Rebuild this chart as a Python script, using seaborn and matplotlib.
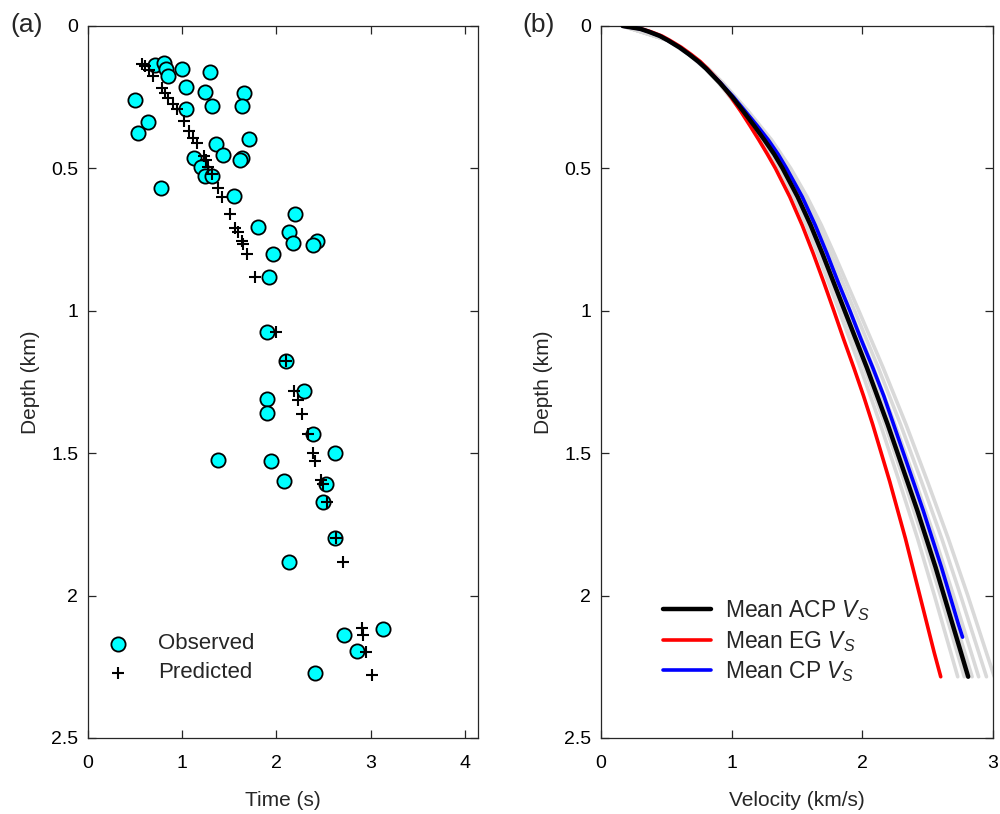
import numpy as np
import pandas as pd
import matplotlib
matplotlib.use("Agg")
import matplotlib.pyplot as plt
from matplotlib.ticker import FuncFormatter
import seaborn as sns

# ---------------- data: panel (a) ----------------
obs_time = [0.71, 0.81, 0.83, 0.85, 1.00, 1.30, 0.50, 0.64, 0.53, 1.04,
            1.24, 1.32, 1.66, 1.63, 1.04, 1.71, 1.36, 1.43, 1.13, 1.63,
            1.61, 1.20, 1.24, 1.32, 0.77, 1.55, 2.20, 1.80, 2.13, 2.18,
            2.43, 2.39, 1.96, 1.92, 1.90, 2.10, 2.29, 1.90, 1.90, 2.39,
            1.38, 1.94, 2.62, 2.08, 2.53, 2.49, 2.62, 2.13, 2.72, 3.13,
            2.86, 2.41]
obs_depth = [0.137, 0.130, 0.151, 0.175, 0.151, 0.161, 0.259, 0.337, 0.375, 0.214,
             0.231, 0.281, 0.235, 0.281, 0.291, 0.396, 0.414, 0.452, 0.463, 0.463,
             0.470, 0.494, 0.526, 0.526, 0.568, 0.596, 0.659, 0.705, 0.722, 0.761,
             0.754, 0.768, 0.799, 0.880, 1.076, 1.175, 1.280, 1.311, 1.360, 1.431,
             1.525, 1.529, 1.501, 1.599, 1.609, 1.672, 1.799, 1.883, 2.139, 2.118,
             2.195, 2.272]

pred_time = [0.57, 0.61, 0.65, 0.69, 0.79, 0.82, 0.85, 0.90, 0.94, 1.02,
             1.07, 1.11, 1.16, 1.23, 1.25, 1.27, 1.32, 1.38, 1.42, 1.51,
             1.56, 1.59, 1.63, 1.65, 1.69, 1.77, 2.00, 2.10, 2.19, 2.23,
             2.27, 2.34, 2.39, 2.41, 2.47, 2.49, 2.54, 2.63, 2.71, 2.91,
             2.92, 2.95, 3.01]
pred_depth = [0.133, 0.140, 0.154, 0.175, 0.217, 0.235, 0.252, 0.273, 0.291, 0.333,
              0.368, 0.393, 0.410, 0.456, 0.470, 0.494, 0.519, 0.568, 0.600, 0.659,
              0.708, 0.722, 0.754, 0.764, 0.799, 0.880, 1.076, 1.175, 1.280, 1.315,
              1.364, 1.431, 1.501, 1.529, 1.595, 1.609, 1.672, 1.799, 1.883, 2.114,
              2.139, 2.198, 2.279]

# ---------------- data: panel (b) ----------------
depth_grid = [0, 0.01, 0.02, 0.035, 0.05, 0.075, 0.1, 0.125, 0.15, 0.2, 0.25,
              0.3, 0.35, 0.4, 0.45, 0.5, 0.6, 0.7, 0.8, 0.9, 1.0, 1.1, 1.2,
              1.3, 1.4, 1.5, 1.6, 1.7, 1.8, 1.9, 2.0, 2.1, 2.2, 2.285]
vs_acp = [0.166, 0.30, 0.365, 0.45, 0.51, 0.60, 0.675, 0.745, 0.805, 0.91, 1.005,
          1.09, 1.172, 1.25, 1.325, 1.39, 1.505, 1.605, 1.695, 1.78, 1.865, 1.95, 2.035,
          2.115, 2.195, 2.27, 2.345, 2.42, 2.49, 2.56, 2.625, 2.69, 2.755, 2.81]
vs_eg = [0.17, 0.31, 0.38, 0.465, 0.525, 0.615, 0.69, 0.76, 0.815, 0.915, 0.995,
         1.07, 1.14, 1.208, 1.273, 1.335, 1.445, 1.54, 1.625, 1.705, 1.782, 1.857, 1.935,
         2.01, 2.08, 2.145, 2.21, 2.27, 2.33, 2.385, 2.44, 2.495, 2.55, 2.60]
depth_cp = [0, 0.01, 0.02, 0.035, 0.05, 0.075, 0.1, 0.125, 0.15, 0.2, 0.25,
            0.3, 0.35, 0.4, 0.45, 0.5, 0.6, 0.7, 0.8, 0.9, 1.0, 1.1, 1.2,
            1.3, 1.4, 1.5, 1.6, 1.7, 1.8, 1.9, 2.0, 2.1, 2.146]
vs_cp = [0.166, 0.30, 0.365, 0.45, 0.51, 0.60, 0.675, 0.745, 0.805, 0.915, 1.015,
         1.105, 1.195, 1.28, 1.355, 1.42, 1.54, 1.64, 1.73, 1.815, 1.905, 1.99, 2.08,
         2.165, 2.24, 2.315, 2.39, 2.465, 2.535, 2.605, 2.67, 2.735, 2.767]

depth_gray = [0, 0.05, 0.1, 0.15, 0.2, 0.3, 0.4, 0.5, 0.6, 0.7, 0.8, 1.0,
              1.2, 1.4, 1.6, 1.8, 2.0, 2.2, 2.285]
vs_gray_1 = [0.166, 0.508, 0.670, 0.798, 0.900, 1.075, 1.235, 1.365, 1.476, 1.572,
             1.659, 1.822, 1.985, 2.139, 2.283, 2.423, 2.552, 2.677, 2.73]
vs_gray_2 = [0.166, 0.509, 0.673, 0.802, 0.906, 1.084, 1.247, 1.381, 1.494, 1.593,
             1.681, 1.849, 2.016, 2.174, 2.322, 2.465, 2.598, 2.726, 2.78]
vs_gray_3 = [0.166, 0.511, 0.677, 0.808, 0.914, 1.096, 1.263, 1.399, 1.516, 1.617,
             1.709, 1.881, 2.054, 2.216, 2.368, 2.515, 2.652, 2.784, 2.84]
vs_gray_4 = [0.166, 0.512, 0.680, 0.812, 0.920, 1.105, 1.275, 1.415, 1.534, 1.638,
             1.731, 1.908, 2.085, 2.251, 2.407, 2.557, 2.698, 2.833, 2.89]
vs_gray_5 = [0.166, 0.514, 0.683, 0.818, 0.927, 1.117, 1.290, 1.433, 1.555, 1.662,
             1.758, 1.941, 2.122, 2.293, 2.453, 2.608, 2.752, 2.891, 2.95]
vs_gray_6 = [0.166, 0.516, 0.687, 0.823, 0.934, 1.128, 1.305, 1.452, 1.577, 1.687,
             1.785, 1.973, 2.159, 2.335, 2.499, 2.658, 2.807, 2.949, 3.01]

legend_a = ["Observed", "Predicted"]
legend_b = [r"Mean ACP $V_S$", r"Mean EG $V_S$", r"Mean CP $V_S$"]

# ---------------- style ----------------
sns.set_style("ticks")
plt.rcParams["font.family"] = ["Liberation Sans", "DejaVu Sans"]
plt.rcParams["mathtext.fontset"] = "custom"
plt.rcParams["mathtext.rm"] = "Liberation Sans"
plt.rcParams["mathtext.it"] = "Liberation Sans:italic"
plt.rcParams["xtick.direction"] = "in"
plt.rcParams["ytick.direction"] = "in"

AX_COL = "#262626"
fig = plt.figure(figsize=(10, 8.14), dpi=100)
ax_a = fig.add_axes([0.088, 0.0934, 0.390, 0.8747])
ax_b = fig.add_axes([0.601, 0.0934, 0.392, 0.8747])

fmt = FuncFormatter(lambda v, p: f"{v:g}")

# ---- panel (a)
sns.scatterplot(x=obs_time, y=obs_depth, ax=ax_a, marker="o", s=105,
                color="#00ffff", edgecolor="black", linewidth=1.3,
                label=legend_a[0], zorder=3)
sns.scatterplot(x=pred_time, y=pred_depth, ax=ax_a, marker="+", s=85,
                color="black", linewidth=1.5, label=legend_a[1], zorder=4)
ax_a.set_xlim(0, 4.14)
ax_a.set_ylim(2.5, 0)
ax_a.set_xticks([0, 1, 2, 3, 4])
ax_a.set_yticks([0, 0.5, 1, 1.5, 2, 2.5])
ax_a.set_xlabel("Time (s)", fontsize=15, labelpad=14)
ax_a.set_ylabel("Depth (km)", fontsize=15, labelpad=8)
ax_a.legend(loc="lower left", bbox_to_anchor=(0.02, 0.061), frameon=False,
            fontsize=16, handlelength=1.0, handletextpad=1.3,
            labelspacing=0.36, borderpad=0)

# ---- panel (b)
gray_sets = [vs_gray_1, vs_gray_2, vs_gray_3, vs_gray_4, vs_gray_5, vs_gray_6]
for g in gray_sets:
    sns.lineplot(x=g, y=depth_gray, ax=ax_b, sort=False, estimator=None,
                 color="#d9d9d9", linewidth=2.6, zorder=1)
sns.lineplot(x=vs_eg, y=depth_grid, ax=ax_b, sort=False, estimator=None,
             color="#ff0000", linewidth=2.6, zorder=2, label=legend_b[1])
sns.lineplot(x=vs_cp, y=depth_cp, ax=ax_b, sort=False, estimator=None,
             color="#0000ff", linewidth=2.6, zorder=3, label=legend_b[2])
sns.lineplot(x=vs_acp, y=depth_grid, ax=ax_b, sort=False, estimator=None,
             color="black", linewidth=3.2, zorder=4, label=legend_b[0])
ax_b.set_xlim(0, 3)
ax_b.set_ylim(2.5, 0)
ax_b.set_xticks([0, 1, 2, 3])
ax_b.set_yticks([0, 0.5, 1, 1.5, 2, 2.5])
ax_b.set_xlabel("Velocity (km/s)", fontsize=15, labelpad=14)
ax_b.set_ylabel("Depth (km)", fontsize=15, labelpad=8)
h, l = ax_b.get_legend_handles_labels()
order = [l.index(t) for t in legend_b]
ax_b.legend([h[i] for i in order], [l[i] for i in order], loc="upper left",
            bbox_to_anchor=(0.128, 0.213), frameon=False, fontsize=16.5,
            handlelength=2.1, handletextpad=0.6, labelspacing=0.26, borderpad=0)

for ax in (ax_a, ax_b):
    ax.xaxis.set_major_formatter(fmt)
    ax.yaxis.set_major_formatter(fmt)
    ax.tick_params(axis="both", which="both", direction="in", length=6,
                   width=0.9, color=AX_COL, labelcolor="black", labelsize=14,
                   top=True, right=True)
    ax.tick_params(axis="x", pad=12)
    ax.tick_params(axis="y", pad=7)
    for s in ax.spines.values():
        s.set_visible(True)
        s.set_color(AX_COL)
        s.set_linewidth(0.9)
    ax.grid(False)

fig.text(0.010, 0.969, "(a)", fontsize=19, va="center", ha="left")
fig.text(0.522, 0.969, "(b)", fontsize=19, va="center", ha="left")

fig.savefig("out.png", dpi=100)
